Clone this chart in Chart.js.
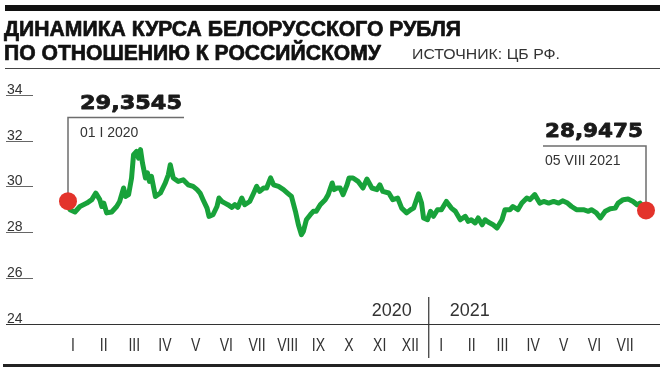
<!DOCTYPE html>
<html>
<head>
<meta charset="utf-8">
<script src="https://cdn.jsdelivr.net/npm/chart.js@4.4.1/dist/chart.umd.min.js"></script>
<style>
  html, body { margin: 0; padding: 0; background: #fff; }
  canvas { display: block; }
</style>
</head>
<body>
<canvas id="chart" width="662" height="371"></canvas>
<script>
// BYN -> RUB, ЦБ РФ
var dates = [
  '2020-01-01','2020-01-03','2020-01-08','2020-01-13','2020-01-20','2020-01-25','2020-01-29',
  '2020-02-02','2020-02-04','2020-02-06','2020-02-09','2020-02-14','2020-02-19','2020-02-22','2020-02-26','2020-02-28',
  '2020-03-02','2020-03-05','2020-03-07','2020-03-10','2020-03-12','2020-03-14','2020-03-16','2020-03-19','2020-03-21','2020-03-23','2020-03-25','2020-03-29',
  '2020-04-03','2020-04-08','2020-04-11','2020-04-13','2020-04-16','2020-04-21','2020-04-26',
  '2020-05-01','2020-05-06','2020-05-10','2020-05-13','2020-05-16','2020-05-20','2020-05-22','2020-05-26','2020-05-30',
  '2020-06-01','2020-06-04','2020-06-07','2020-06-10','2020-06-14','2020-06-17','2020-06-20','2020-06-24','2020-06-27',
  '2020-07-02','2020-07-06','2020-07-09','2020-07-12','2020-07-16','2020-07-19','2020-07-23','2020-07-26','2020-07-31',
  '2020-08-05','2020-08-09','2020-08-13','2020-08-17','2020-08-20','2020-08-23','2020-08-25','2020-08-28',
  '2020-09-01','2020-09-04','2020-09-07','2020-09-11','2020-09-16','2020-09-19','2020-09-23','2020-09-25','2020-09-28',
  '2020-10-01','2020-10-04','2020-10-08','2020-10-10','2020-10-14','2020-10-19','2020-10-24','2020-10-28',
  '2020-11-02','2020-11-07','2020-11-10','2020-11-13','2020-11-19','2020-11-23','2020-11-28',
  '2020-12-02','2020-12-07','2020-12-11','2020-12-14','2020-12-19','2020-12-22','2020-12-24','2020-12-28','2020-12-31',
  '2021-01-03','2021-01-07','2021-01-11','2021-01-16','2021-01-21','2021-01-25','2021-01-30',
  '2021-02-04','2021-02-07','2021-02-10','2021-02-14','2021-02-17','2021-02-21','2021-02-24','2021-02-27',
  '2021-03-04','2021-03-08','2021-03-13','2021-03-16','2021-03-21','2021-03-24','2021-03-29',
  '2021-04-02','2021-04-07','2021-04-10','2021-04-15','2021-04-20','2021-04-24','2021-04-29',
  '2021-05-04','2021-05-09','2021-05-13','2021-05-18','2021-05-22','2021-05-27',
  '2021-06-03','2021-06-08','2021-06-11','2021-06-16','2021-06-20','2021-06-25','2021-06-30',
  '2021-07-05','2021-07-08','2021-07-13','2021-07-18','2021-07-23','2021-07-27','2021-07-30',
  '2021-08-02','2021-08-05'
];
var rates = [
  29.3545, 28.98, 28.88, 29.12, 29.27, 29.42, 29.71,
  29.42, 29.12, 29.27, 28.84, 28.88, 29.12, 29.34, 29.93, 29.56,
  29.64, 30.37, 31.39, 31.53, 31.24, 31.61, 31.02, 30.37, 30.59, 30.22, 30.44, 29.56,
  29.71, 30.15, 30.51, 30.95, 30.37, 30.22, 30.29,
  30.07, 30.00, 29.86, 29.71, 29.42, 29.05, 28.69, 28.76, 29.12,
  29.49, 29.34, 29.27, 29.20, 29.08, 29.20, 29.08, 29.49, 29.20,
  29.34, 29.71, 30.00, 29.78, 29.93, 29.93, 30.37, 30.07, 30.00,
  29.86, 29.71, 29.56, 28.91, 28.32, 27.89, 28.03, 28.54,
  28.76, 28.91, 28.91, 29.20, 29.42, 29.64, 30.15, 29.86, 29.93,
  29.93, 29.64, 30.07, 30.37, 30.37, 30.22, 29.93, 30.32,
  29.93, 29.86, 30.07, 29.78, 29.71, 29.42, 29.49,
  29.05, 28.84, 28.98, 29.05, 29.67, 29.27, 28.62, 28.54, 28.91,
  28.69, 28.98, 28.98, 29.34, 29.05, 28.91, 28.54,
  28.69, 28.47, 28.54, 28.40, 28.62, 28.32, 28.54, 28.44,
  28.32, 28.18, 28.54, 28.98, 28.98, 29.12, 28.98,
  29.27, 29.49, 29.42, 29.64, 29.27, 29.34, 29.27,
  29.34, 29.27, 29.37, 29.27, 29.12, 28.98,
  28.98, 28.91, 28.98, 28.84, 28.62, 28.91, 29.02,
  29.05, 29.27, 29.42, 29.45, 29.34, 29.20, 29.27,
  29.12, 28.9475
];
var yTicks = [24, 26, 28, 30, 32, 34];
var romans = ['I','II','III','IV','V','VI','VII','VIII','IX','X','XI','XII'];
var months2020 = romans.slice(0, 12);
var months2021 = romans.slice(0, 7);
var years = ['2020', '2021'];

var title1 = 'ДИНАМИКА КУРСА БЕЛОРУССКОГО РУБЛЯ';
var title2 = 'ПО ОТНОШЕНИЮ К РОССИЙСКОМУ';
var source = 'ИСТОЧНИК: ЦБ РФ.';

var T0 = Date.UTC(2020, 0, 1);
function dayOf(s) {
  var p = s.split('-');
  return (Date.UTC(+p[0], +p[1] - 1, +p[2]) - T0) / 864e5;
}
var days = dates.map(dayOf);
var points = rates.map(function (v, i) { return { x: days[i], y: v }; });
var last = rates.length - 1;
var ends = [points[0], points[last]];

function dateLabel(s) {
  var p = s.split('-');
  return p[2] + ' ' + romans[+p[1] - 1] + ' ' + p[0];
}
function valueLabel(v) {
  return v.toFixed(4).replace('.', ',');
}

var SANS = "'Liberation Sans', Arial, sans-serif";
var WIDE = "'DejaVu Sans', sans-serif";

// draw text squeezed horizontally by sx, optionally thickened
function drawText(ctx, text, x, y, font, sx, align, heavy) {
  ctx.save();
  ctx.font = font;
  ctx.textAlign = align || 'left';
  ctx.translate(x, y);
  ctx.scale(sx, 1);
  ctx.fillText(text, 0, 0);
  if (heavy) {
    ctx.strokeStyle = ctx.fillStyle;
    ctx.lineWidth = heavy;
    ctx.lineJoin = 'round';
    ctx.strokeText(text, 0, 0);
  }
  ctx.restore();
}
// same, but squeezed to a given width
function fitText(ctx, text, x, y, font, width, heavy) {
  ctx.font = font;
  var w = ctx.measureText(text).width;
  drawText(ctx, text, x, y, font, width / w, 'left', heavy);
}

var decor = {
  id: 'decor',
  beforeDatasetsDraw: function (chart) {
    var ctx = chart.ctx, xs = chart.scales.x, ys = chart.scales.y;
    ctx.save();
    ctx.textBaseline = 'alphabetic';

    // header
    ctx.fillStyle = '#111';
    ctx.fillRect(5, 5, 655, 6);
    fitText(ctx, title1, 4, 36, 'bold 22px ' + SANS, 457, 0.7);
    fitText(ctx, title2, 4, 59.5, 'bold 22px ' + SANS, 377, 0.7);
    ctx.fillStyle = '#333';
    fitText(ctx, source, 412, 59, '15px ' + SANS, 148);
    ctx.fillStyle = '#444';
    ctx.fillRect(5, 68, 655, 1);

    // y ticks: label above a short rule, base rule full width
    yTicks.forEach(function (t) {
      var y = Math.round(ys.getPixelForValue(t)) + 0.5;
      ctx.fillStyle = '#333';
      drawText(ctx, String(t), 7, y - 1.5, '14px ' + SANS, 1, 'left');
      ctx.strokeStyle = t === yTicks[0] ? '#333' : '#666';
      ctx.lineWidth = 1;
      ctx.beginPath();
      ctx.moveTo(6, y);
      ctx.lineTo(t === yTicks[0] ? 660 : 33, y);
      ctx.stroke();
    });

    // month labels, evenly spread
    var months = months2020.concat(months2021);
    var a = xs.getPixelForValue(5), b = xs.getPixelForValue(561);
    var step = (b - a) / (months.length - 1);
    ctx.fillStyle = '#333';
    months.forEach(function (m, i) {
      drawText(ctx, m, a + step * i, 351, '18px ' + SANS, 0.78, 'center');
    });

    // year split
    var xd = a + step * (months2020.length - 0.5) + 3;
    ctx.strokeStyle = '#333';
    ctx.lineWidth = 1.2;
    ctx.beginPath();
    ctx.moveTo(xd, 297);
    ctx.lineTo(xd, 358);
    ctx.stroke();
    drawText(ctx, years[0], xd - 17, 316, '18px ' + SANS, 1, 'right');
    drawText(ctx, years[1], xd + 21, 316, '18px ' + SANS, 1, 'left');

    // bottom rule
    ctx.fillStyle = '#222';
    ctx.fillRect(3, 364, 657, 3);

    // call-outs for first and last value
    var x0 = xs.getPixelForValue(ends[0].x), y0 = ys.getPixelForValue(ends[0].y);
    var x1 = xs.getPixelForValue(ends[1].x), y1 = ys.getPixelForValue(ends[1].y);
    ctx.strokeStyle = '#6d6d6d';
    ctx.lineWidth = 1.5;
    ctx.beginPath();
    ctx.moveTo(x0, y0); ctx.lineTo(x0, 117.5); ctx.lineTo(184, 117.5);
    ctx.moveTo(x1, y1); ctx.lineTo(x1, 146); ctx.lineTo(543, 146);
    ctx.stroke();

    ctx.fillStyle = '#1a1a1a';
    fitText(ctx, valueLabel(ends[0].y), 80, 108.5, 'bold 20px ' + WIDE, 102, 0.8);
    fitText(ctx, valueLabel(ends[1].y), 545, 137, 'bold 20px ' + WIDE, 98, 0.8);
    ctx.fillStyle = '#333';
    drawText(ctx, dateLabel(dates[0]), 80, 136.5, '14px ' + SANS, 1, 'left');
    drawText(ctx, dateLabel(dates[last]), 545, 165, '14px ' + SANS, 1, 'left');
    ctx.restore();
  }
};

new Chart(document.getElementById('chart'), {
  type: 'line',
  data: {
    datasets: [{
      data: ends,
      showLine: false,
      pointRadius: 9,
      pointBackgroundColor: '#e3332b',
      pointBorderWidth: 0,
      clip: false,
      order: 0
    }, {
      data: points,
      borderColor: '#18a23a',
      borderWidth: 5,
      borderJoinStyle: 'round',
      borderCapStyle: 'round',
      pointRadius: 0,
      tension: 0,
      clip: false,
      order: 1
    }]
  },
  options: {
    responsive: false,
    animation: false,
    devicePixelRatio: 1,
    layout: { padding: { left: 68, right: 16, top: 95, bottom: 47.5 } },
    plugins: { legend: { display: false }, tooltip: { enabled: false } },
    scales: {
      x: { type: 'linear', display: false, min: 0, max: days[last] },
      y: { display: false, min: yTicks[0], max: yTicks[yTicks.length - 1] }
    }
  },
  plugins: [decor]
});
</script>
</body>
</html>
